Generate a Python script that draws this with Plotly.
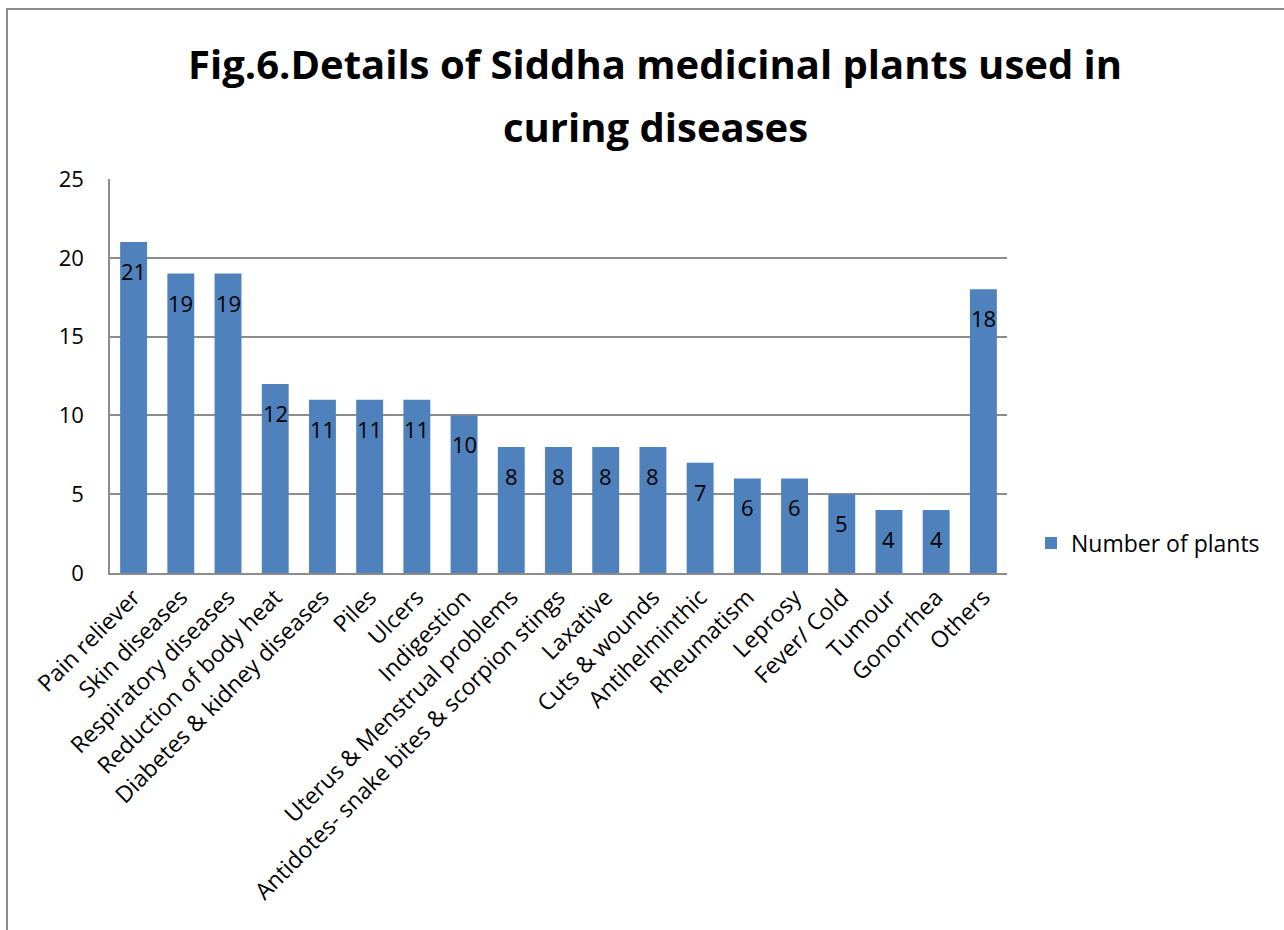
import plotly.graph_objects as go

categories = [
    "Pain reliever", "Skin diseases", "Respiratory diseases", "Reduction of body heat",
    "Diabetes & kidney diseases", "Piles", "Ulcers", "Indigestion",
    "Uterus & Menstrual problems", "Antidotes- snake bites & scorpion stings",
    "Laxative", "Cuts & wounds", "Antihelminthic", "Rheumatism", "Leprosy",
    "Fever/ Cold", "Tumour", "Gonorrhea", "Others",
]
num_plants = [21, 19, 19, 12, 11, 11, 11, 10, 8, 8, 8, 8, 7, 6, 6, 5, 4, 4, 18]
y_ticks = [0, 5, 10, 15, 20, 25]
title_lines = ["Fig.6.Details of Siddha medicinal plants used in", "curing diseases"]

W, H = 1284, 930
ML, MR, MT, MB = 110, 277, 179, 357
PW, PH = W - ML - MR, H - MT - MB
FONT = "Open Sans"
BLUE = "#4F81BD"
GRID = "#8C8C8C"


def py(pixel_y):
    """Pixel row from the top of the page -> paper y."""
    return (H - MB - pixel_y) / PH


def px(pixel_x):
    """Pixel column from the left of the page -> paper x."""
    return (pixel_x - ML) / PW


fig = go.Figure(
    go.Bar(
        x=categories,
        y=num_plants,
        name="Number of plants",
        marker=dict(color=BLUE, line=dict(width=0)),
    )
)

# value labels sitting just below the top of each bar
for cat, val in zip(categories, num_plants):
    fig.add_annotation(
        x=cat, y=val, xref="x", yref="y",
        text=str(val), showarrow=False,
        yanchor="middle", yshift=-29,
        font=dict(family=FONT, size=22, color="black"),
    )

# two-line bold title
for text, yc in zip(title_lines, [63, 126]):
    fig.add_annotation(
        x=px(655), y=py(yc), xref="paper", yref="paper",
        text=f"<b>{text}</b>", showarrow=False,
        xanchor="center", yanchor="middle",
        font=dict(family=FONT, size=40, color="black"),
    )

fig.update_layout(
    width=W, height=H,
    margin=dict(l=ML, r=MR, t=MT, b=MB, autoexpand=False),
    paper_bgcolor="white", plot_bgcolor="white",
    bargap=0.43,
    font=dict(family=FONT, color="black"),
    showlegend=True,
    legend=dict(
        x=px(1031), xanchor="left", y=py(543), yanchor="middle",
        font=dict(family=FONT, size=23, color="black"),
        bgcolor="rgba(0,0,0,0)",
    ),
)

fig.update_xaxes(
    tickangle=-45,
    tickfont=dict(family=FONT, size=23, color="black"),
    showline=True, linecolor=GRID, linewidth=1.5,
    showgrid=False, ticks="",
)
fig.update_yaxes(
    range=[0, 25], tickvals=y_ticks,
    tickfont=dict(family=FONT, size=22, color="black"),
    showline=True, linecolor=GRID, linewidth=1.5,
    showgrid=True, gridcolor=GRID, gridwidth=1.5,
    zeroline=False, ticks="", ticklabelstandoff=20,
)

# outer chart frame, running off the right and bottom edges
fig.add_shape(
    type="rect", xref="paper", yref="paper",
    x0=px(7), x1=px(W + 10), y0=py(H + 10), y1=py(9),
    line=dict(color="#8C8C8C", width=2), fillcolor="rgba(0,0,0,0)", layer="below",
)

fig.write_html("out.html")
